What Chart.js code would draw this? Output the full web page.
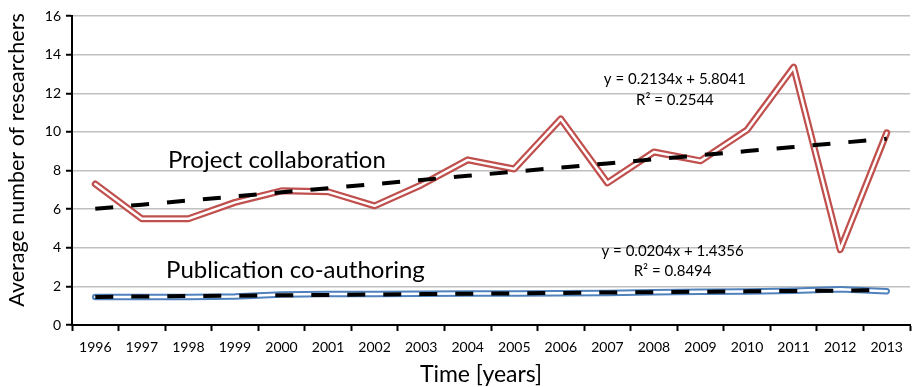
<!DOCTYPE html>
<html>
<head>
<meta charset="utf-8">
<title>Average number of researchers per year</title>
<script src="https://cdn.jsdelivr.net/npm/chart.js@4/dist/chart.umd.min.js"></script>
<style>
  html, body { margin: 0; padding: 0; background: #ffffff; }
  #wrap { width: 914px; height: 387px; position: relative; }
</style>
</head>
<body>
<div id="wrap"><canvas id="chart"></canvas></div>
<script>
// Years on the horizontal axis
const years = ['1996','1997','1998','1999','2000','2001','2002','2003','2004',
               '2005','2006','2007','2008','2009','2010','2011','2012','2013'];

// Average number of researchers involved in project collaboration
const projectCollaboration = [7.3, 5.5, 5.5, 6.35, 6.95, 6.9, 6.17, 7.25, 8.55,
                              8.08, 10.67, 7.36, 8.96, 8.5, 10.1, 13.35, 3.9, 9.95];

// Average number of co-authors on publications
const publicationCoauthoring = [1.45, 1.45, 1.45, 1.48, 1.58, 1.6, 1.6, 1.62, 1.63,
                                1.63, 1.64, 1.66, 1.7, 1.72, 1.74, 1.77, 1.85, 1.75];

// Linear trend coefficients (x = 1 for the first year)
const projectTrend = { slope: 0.2134, intercept: 5.8041, r2: 0.2544 };
const publicationTrend = { slope: 0.0204, intercept: 1.4356, r2: 0.8494 };

// Vertical axis ticks
const yTicks = [0, 2, 4, 6, 8, 10, 12, 14, 16];

const trendValues = t => years.map((_, i) => t.slope * (i + 1) + t.intercept);
const eqText = t => 'y = ' + t.slope.toFixed(4) + 'x + ' + t.intercept.toFixed(4);
const r2Text = t => 'R\u00B2 = ' + t.r2.toFixed(4);

const FONT = 'Lato, "Liberation Sans", sans-serif';

// Free text drawn inside the plot: series names, trend equations, axis titles
const textPlugin = {
  id: 'chartTexts',
  afterDraw(chart) {
    const { ctx, scales: { x, y } } = chart;
    const put = (txt, xi, yv, size) => {
      ctx.save();
      ctx.font = size + 'px ' + FONT;
      ctx.fillStyle = '#000000';
      ctx.textAlign = 'center';
      ctx.textBaseline = 'middle';
      ctx.fillText(txt, x.getPixelForValue(xi), y.getPixelForValue(yv));
      ctx.restore();
    };
    put('Project collaboration', 3.9, 8.55, 24);
    put('Publication co-authoring', 4.3, 2.85, 24);
    put(eqText(projectTrend), 12.45, 12.75, 15);
    put(r2Text(projectTrend), 12.45, 11.65, 15);
    put(eqText(publicationTrend), 12.4, 3.83, 15);
    put(r2Text(publicationTrend), 12.4, 2.8, 15);

    ctx.save();
    ctx.fillStyle = '#000000';
    ctx.textAlign = 'center';
    ctx.textBaseline = 'middle';
    ctx.font = '23px ' + FONT;
    ctx.fillText('Time [years]', 481, 375);
    ctx.font = '21.5px ' + FONT;
    ctx.translate(17, 160);
    ctx.rotate(-Math.PI / 2);
    ctx.fillText('Average number of researchers', 0, 0);
    ctx.restore();
  }
};

const lineBase = {
  pointRadius: 0,
  pointHoverRadius: 0,
  tension: 0,
  fill: false,
  borderCapStyle: 'round',
  borderJoinStyle: 'round'
};

new Chart(document.getElementById('chart'), {
  type: 'line',
  data: {
    labels: years,
    datasets: [
      { ...lineBase, label: 'Project collaboration trend', data: trendValues(projectTrend),
        borderColor: '#000000', borderWidth: 4, borderDash: [18, 18], borderCapStyle: 'butt', order: 0 },
      { ...lineBase, label: 'Publication co-authoring trend', data: trendValues(publicationTrend),
        borderColor: '#000000', borderWidth: 4, borderDash: [18, 18], borderCapStyle: 'butt', order: 0 },
      { ...lineBase, label: 'Project collaboration (inner)', data: projectCollaboration,
        borderColor: '#ffffff', borderWidth: 2.5, order: 1 },
      { ...lineBase, label: 'Publication co-authoring (inner)', data: publicationCoauthoring,
        borderColor: '#ffffff', borderWidth: 2.5, order: 1 },
      { ...lineBase, label: 'Project collaboration', data: projectCollaboration,
        borderColor: '#c0504d', borderWidth: 7, order: 2 },
      { ...lineBase, label: 'Publication co-authoring', data: publicationCoauthoring,
        borderColor: '#4f81bd', borderWidth: 6.5, order: 2 }
    ]
  },
  options: {
    responsive: true,
    maintainAspectRatio: false,
    animation: false,
    events: [],
    layout: { padding: { left: 0, top: 16, right: 4, bottom: 0 } },
    plugins: { legend: { display: false }, tooltip: { enabled: false }, title: { display: false } },
    scales: {
      x: {
        type: 'category',
        offset: true,
        grid: { display: true, drawOnChartArea: false, offset: true, drawTicks: true,
                tickLength: 6, tickColor: '#000000', tickWidth: 2 },
        border: { display: true, color: '#000000', width: 2 },
        ticks: { color: '#000000', font: { family: FONT, size: 14 }, padding: 8,
                 maxRotation: 0, autoSkip: false },
        afterFit(scale) { scale.height = 62; }
      },
      y: {
        min: 0, max: 16,
        afterBuildTicks(scale) { scale.ticks = yTicks.map(v => ({ value: v })); },
        grid: { color: '#c0c0c0', lineWidth: 1.5, drawTicks: true, tickLength: 6,
                tickColor: '#000000', tickWidth: 2 },
        border: { display: true, color: '#000000', width: 2 },
        ticks: { color: '#000000', font: { family: FONT, size: 14 }, padding: 5 },
        afterFit(scale) { scale.width = 72; }
      }
    }
  },
  plugins: [textPlugin]
});
</script>
</body>
</html>
